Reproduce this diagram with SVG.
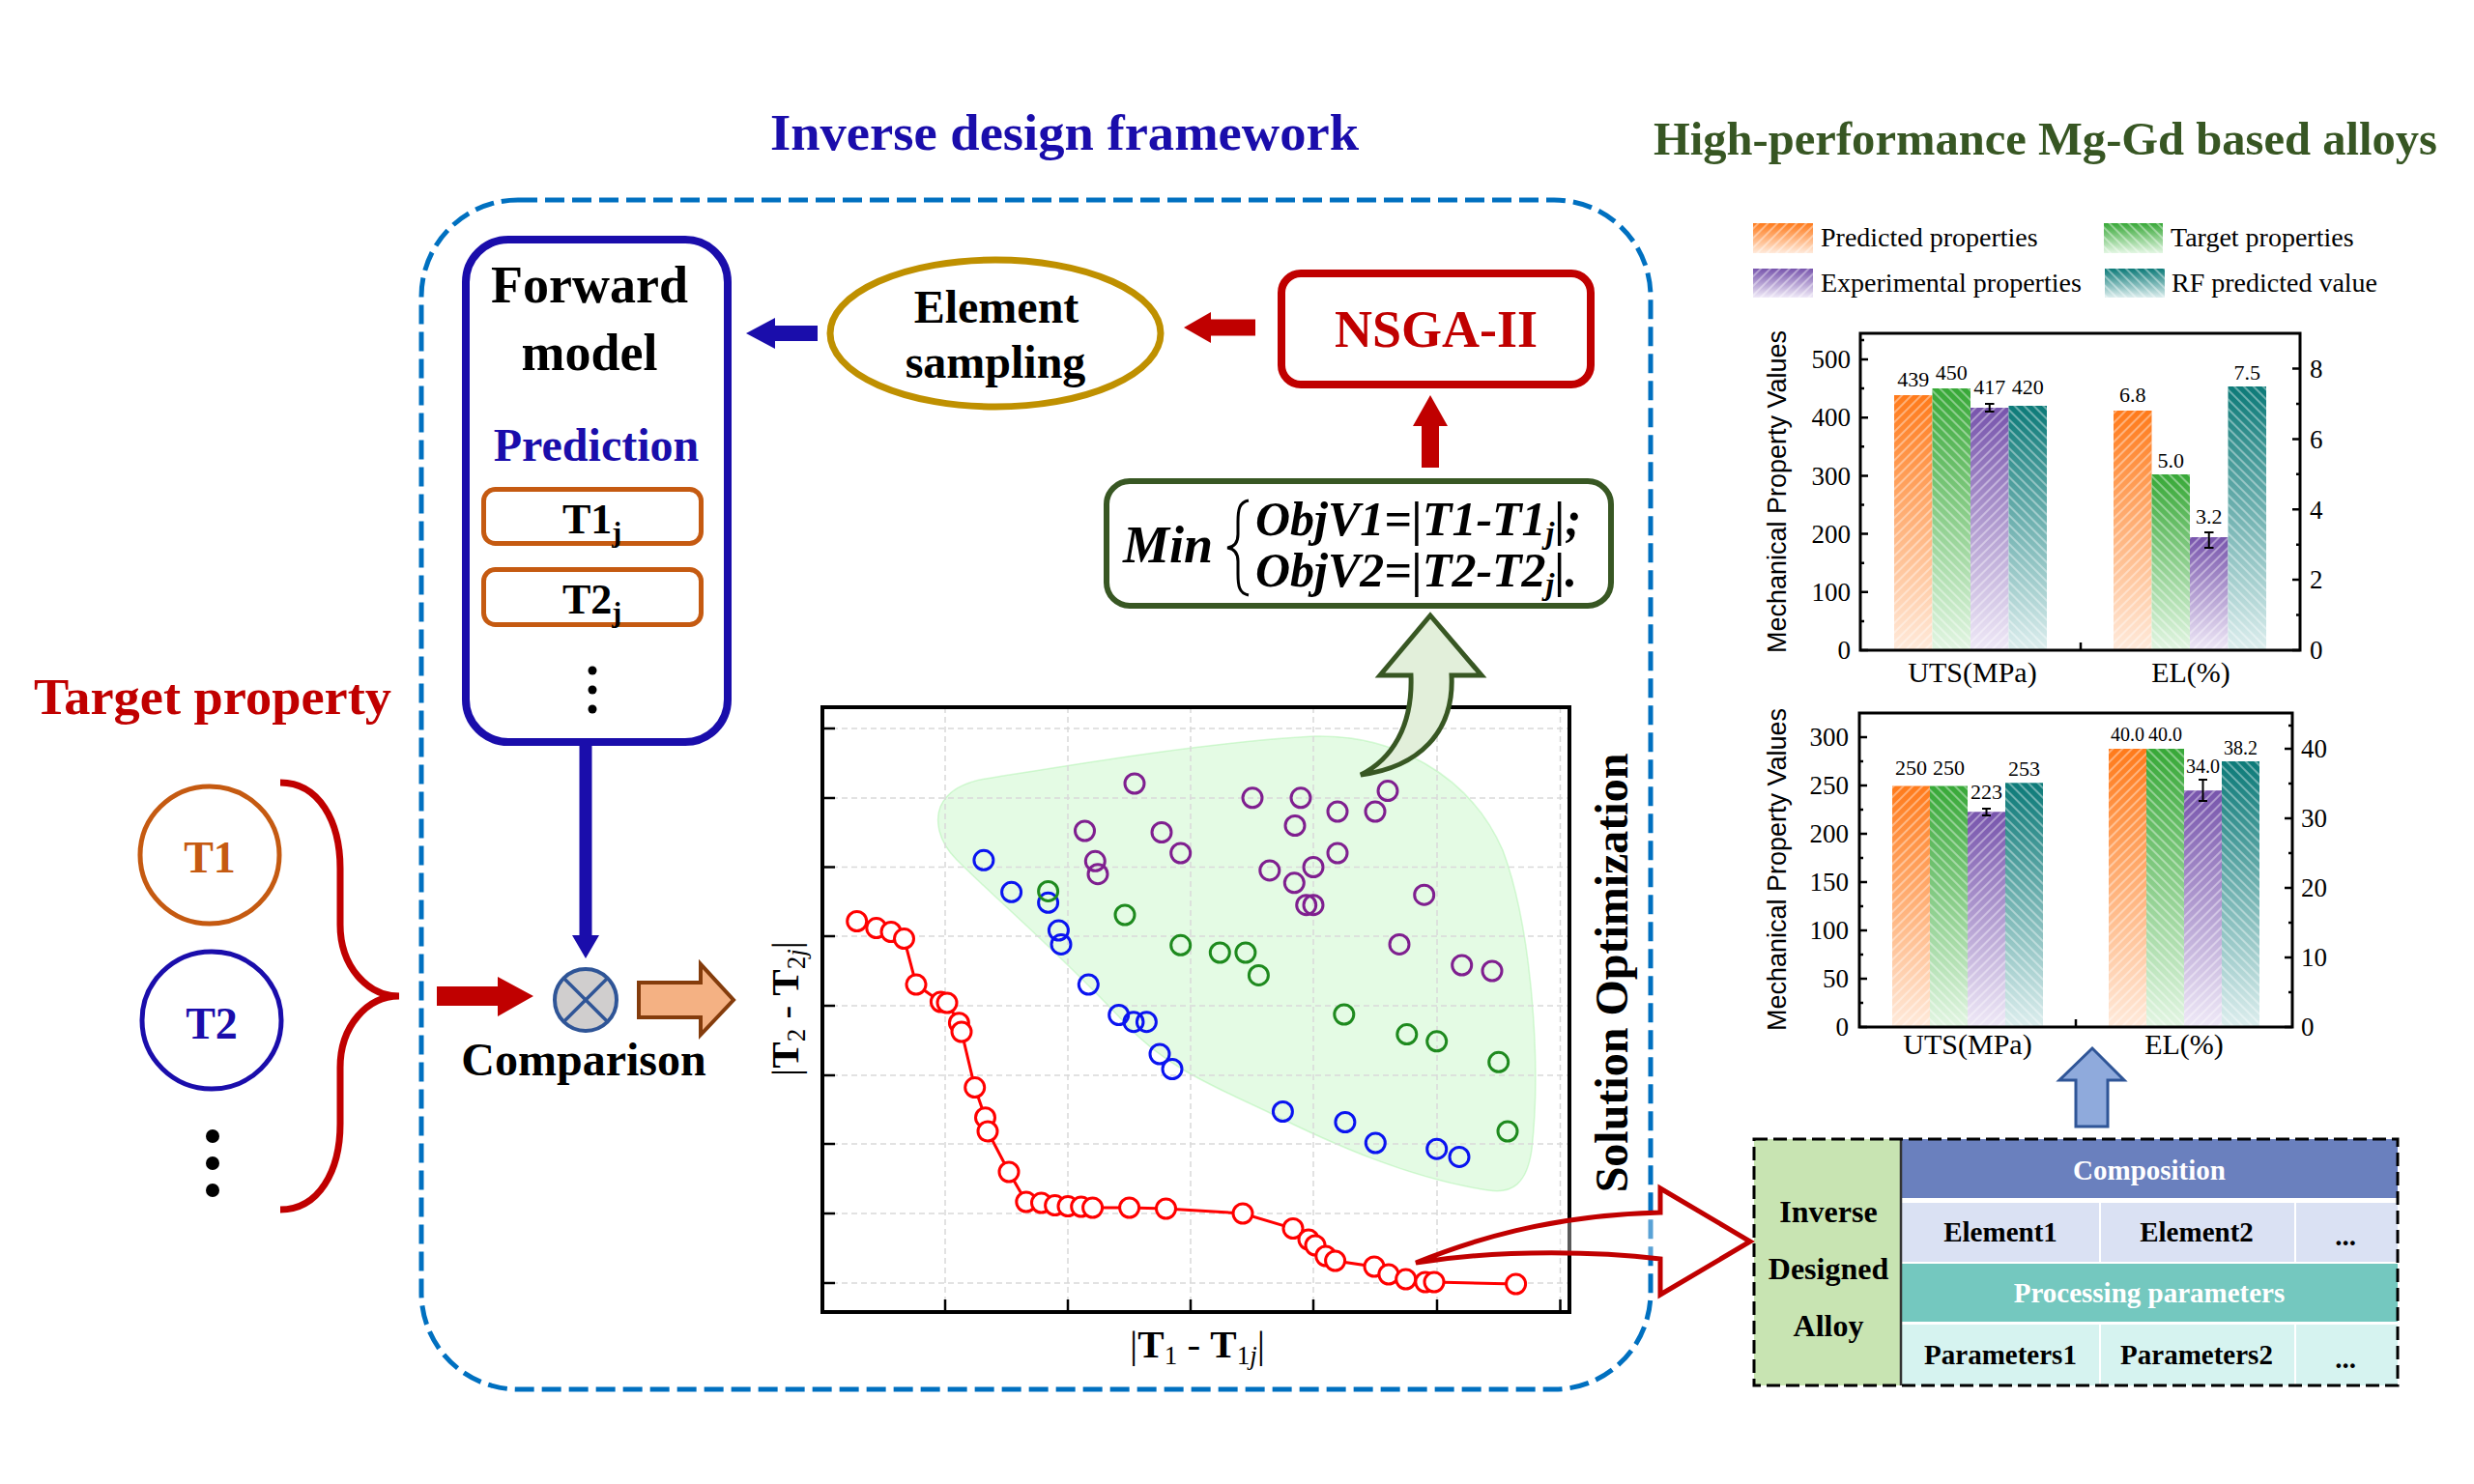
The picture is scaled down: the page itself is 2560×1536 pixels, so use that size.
<svg xmlns="http://www.w3.org/2000/svg" width="2560" height="1536" viewBox="0 0 2560 1536">
<defs>
<style>
text { font-family: "Liberation Serif", "Times New Roman", serif; fill: #000; }
.b { font-weight: bold; }
.bi { font-weight: bold; font-style: italic; }
.sans { font-family: "Liberation Sans", Arial, sans-serif; }
.mid { text-anchor: middle; }
.grid { stroke: #D9D9D9; stroke-width: 1.5; stroke-dasharray: 6 4; fill: none; }
.pf { fill: #FFFFFF; stroke: #FF0000; stroke-width: 3; }
.pu { fill: none; stroke: #7F1F8F; stroke-width: 3; }
.gr { fill: none; stroke: #1E8A1E; stroke-width: 3; }
.bl { fill: none; stroke: #0A14F0; stroke-width: 3; }
.tick { stroke: #000; stroke-width: 2.5; }
.frame { fill: none; stroke: #000; stroke-width: 3; }
.num { font-size: 27px; }
.val { font-size: 22px; text-anchor: middle; }
.val2 { font-size: 20px; text-anchor: middle; }
.axl { font-size: 30px; text-anchor: middle; }
.leg { font-size: 28px; }
.err { stroke: #000; stroke-width: 2; fill: none; }
.cell { font-size: 29px; font-weight: bold; text-anchor: middle; }
</style>
<linearGradient id="gO" x1="0" y1="0" x2="0" y2="1"><stop offset="0" stop-color="#FF7A1A"/><stop offset="1" stop-color="#FFEADB"/></linearGradient>
<linearGradient id="gG" x1="0" y1="0" x2="0" y2="1"><stop offset="0" stop-color="#37A837"/><stop offset="1" stop-color="#E3F6E3"/></linearGradient>
<linearGradient id="gP" x1="0" y1="0" x2="0" y2="1"><stop offset="0" stop-color="#7754AC"/><stop offset="1" stop-color="#EFE9F7"/></linearGradient>
<linearGradient id="gT" x1="0" y1="0" x2="0" y2="1"><stop offset="0" stop-color="#0C7A78"/><stop offset="1" stop-color="#DDEEEE"/></linearGradient>
<pattern id="hF" width="7" height="7" patternUnits="userSpaceOnUse" patternTransform="rotate(45)"><line x1="1" y1="0" x2="1" y2="7" stroke="#FFFFFF" stroke-width="1.3" stroke-opacity="0.6"/></pattern>
<pattern id="hB" width="7" height="7" patternUnits="userSpaceOnUse" patternTransform="rotate(-45)"><line x1="1" y1="0" x2="1" y2="7" stroke="#FFFFFF" stroke-width="1.3" stroke-opacity="0.6"/></pattern>
</defs>
<rect x="0" y="0" width="2560" height="1536" fill="#FFFFFF"/>

<!-- Titles -->
<text x="797" y="155" class="b" font-size="53" fill="#1A0DAB" style="fill:#1A0DAB" textLength="609" lengthAdjust="spacingAndGlyphs">Inverse design framework</text>
<text x="1711" y="160" class="b" font-size="48" style="fill:#375623" textLength="811" lengthAdjust="spacingAndGlyphs">High-performance Mg-Gd based alloys</text>

<!-- Big dashed framework box -->
<rect id="framework-box" x="436" y="207" width="1272" height="1231" rx="100" ry="100" fill="none" stroke="#0070C0" stroke-width="5" stroke-dasharray="20 8"/>

<!-- Target property -->
<g id="target-property">
<text x="35" y="739" class="b" font-size="52" style="fill:#C00000" textLength="370" lengthAdjust="spacingAndGlyphs">Target property</text>
<path d="M290,810 C330,810 352,850 352,899 L352,957 C352,1000 380,1031 413,1031 C380,1031 352,1062 352,1105 L352,1163 C352,1212 330,1252 290,1252" fill="none" stroke="#C00000" stroke-width="7"/>
<circle cx="220" cy="1176" r="7" fill="#000"/>
<circle cx="220" cy="1204" r="7" fill="#000"/>
<circle cx="220" cy="1232" r="7" fill="#000"/>
</g>
<g id="t1">
<ellipse cx="217" cy="885" rx="72" ry="71" fill="#FFFFFF" stroke="#C55A11" stroke-width="5"/>
<text x="217" y="903" class="b mid" font-size="46" style="fill:#C55A11">T1</text>
</g>
<g id="t2">
<ellipse cx="219" cy="1056" rx="72" ry="71" fill="#FFFFFF" stroke="#1A0DAB" stroke-width="5"/>
<text x="219" y="1075" class="b mid" font-size="46" style="fill:#1A0DAB">T2</text>
</g>

<!-- Forward model -->
<g id="forward-model">
<rect x="482" y="248" width="271" height="520" rx="44" ry="44" fill="#FFFFFF" stroke="#1A0DAB" stroke-width="8"/>
<text x="610" y="313" class="b mid" font-size="54">Forward</text>
<text x="610" y="383" class="b mid" font-size="54">model</text>
<text x="617" y="477" class="b mid" font-size="48" style="fill:#1A0DAB">Prediction</text>
<rect x="500.5" y="506.5" width="225" height="56" rx="12" ry="12" fill="#FFFFFF" stroke="#C55A11" stroke-width="5"/>
<text x="582" y="552" class="b" font-size="44">T1<tspan font-size="30" dy="9">j</tspan></text>
<rect x="500.5" y="589.5" width="225" height="57" rx="12" ry="12" fill="#FFFFFF" stroke="#C55A11" stroke-width="5"/>
<text x="582" y="635" class="b" font-size="44">T2<tspan font-size="30" dy="9">j</tspan></text>
<circle cx="613" cy="694" r="4.5" fill="#000"/>
<circle cx="613" cy="714" r="4.5" fill="#000"/>
<circle cx="613" cy="734" r="4.5" fill="#000"/>
</g>

<!-- Element sampling -->
<g id="element-sampling">
<ellipse cx="1030" cy="345" rx="171" ry="76" fill="#FFFFFF" stroke="#BF9000" stroke-width="7"/>
<text x="1031" y="334" class="b mid" font-size="48">Element</text>
<text x="1030" y="391" class="b mid" font-size="48">sampling</text>
</g>

<!-- NSGA-II -->
<g id="nsga">
<rect x="1326" y="283" width="320" height="115" rx="20" ry="20" fill="#FFFFFF" stroke="#C00000" stroke-width="8"/>
<text x="1486" y="359" class="b mid" font-size="54" style="fill:#C00000">NSGA-II</text>
</g>

<!-- Min objective -->
<g id="min-objective">
<rect x="1145" y="498" width="522" height="129" rx="24" ry="24" fill="#FFFFFF" stroke="#385723" stroke-width="6"/>
<text x="1162" y="582" class="bi" font-size="54">Min</text>
<path d="M1292,518 C1282,520 1281,528 1281,540 L1281,553 C1281,561 1278,566 1270,567 C1278,568 1281,573 1281,581 L1281,594 C1281,606 1282,614 1292,616" fill="none" stroke="#000" stroke-width="3"/>
<text x="1299" y="554" class="bi" font-size="50">ObjV1=|T1-T1<tspan font-size="32" dy="8">j</tspan><tspan dy="-8">|;</tspan></text>
<text x="1299" y="607" class="bi" font-size="50">ObjV2=|T2-T2<tspan font-size="32" dy="8">j</tspan><tspan dy="-8">|.</tspan></text>
</g>

<!-- Comparison -->
<g id="comparison">
<circle cx="606" cy="1035" r="32" fill="#D0CECE" stroke="#2F5597" stroke-width="4"/>
<line x1="583.4" y1="1012.4" x2="628.6" y2="1057.6" stroke="#2F5597" stroke-width="3.5"/>
<line x1="628.6" y1="1012.4" x2="583.4" y2="1057.6" stroke="#2F5597" stroke-width="3.5"/>
<text x="604" y="1113" class="b mid" font-size="48">Comparison</text>
</g>

<!-- Scatter plot -->
<g id="scatter-plot">
<path d="M972,860 C965,830 985,812 1020,806 C1120,790 1250,768 1360,762 C1440,760 1520,800 1555,880 C1585,960 1595,1100 1585,1190 C1580,1225 1565,1236 1540,1232 C1460,1220 1380,1185 1310,1150 C1240,1118 1200,1098 1165,1060 C1100,990 1030,930 990,890 C978,878 974,868 972,860 Z" fill="#90EE90" fill-opacity="0.24" stroke="#90EE90" stroke-opacity="0.35" stroke-width="1.5"/>
<g class="grid">
<line x1="851" y1="754" x2="1624" y2="754"/>
<line x1="851" y1="826" x2="1624" y2="826"/>
<line x1="851" y1="897.5" x2="1624" y2="897.5"/>
<line x1="851" y1="969" x2="1624" y2="969"/>
<line x1="851" y1="1041" x2="1624" y2="1041"/>
<line x1="851" y1="1113" x2="1624" y2="1113"/>
<line x1="851" y1="1184" x2="1624" y2="1184"/>
<line x1="851" y1="1256" x2="1624" y2="1256"/>
<line x1="851" y1="1328" x2="1624" y2="1328"/>
<line x1="978" y1="732" x2="978" y2="1357"/>
<line x1="1105" y1="732" x2="1105" y2="1357"/>
<line x1="1232" y1="732" x2="1232" y2="1357"/>
<line x1="1359" y1="732" x2="1359" y2="1357"/>
<line x1="1487" y1="732" x2="1487" y2="1357"/>
<line x1="1614.5" y1="732" x2="1614.5" y2="1357"/>
</g>
<rect x="851" y="732" width="773" height="626" fill="none" stroke="#000" stroke-width="4"/>
<g class="tick">
<line x1="851" y1="754" x2="864" y2="754"/>
<line x1="851" y1="826" x2="864" y2="826"/>
<line x1="851" y1="897.5" x2="864" y2="897.5"/>
<line x1="851" y1="969" x2="864" y2="969"/>
<line x1="851" y1="1041" x2="864" y2="1041"/>
<line x1="851" y1="1113" x2="864" y2="1113"/>
<line x1="851" y1="1184" x2="864" y2="1184"/>
<line x1="851" y1="1256" x2="864" y2="1256"/>
<line x1="851" y1="1328" x2="864" y2="1328"/>
<line x1="978" y1="1358" x2="978" y2="1345"/>
<line x1="1105" y1="1358" x2="1105" y2="1345"/>
<line x1="1232" y1="1358" x2="1232" y2="1345"/>
<line x1="1359" y1="1358" x2="1359" y2="1345"/>
<line x1="1487" y1="1358" x2="1487" y2="1345"/>
<line x1="1614.5" y1="1358" x2="1614.5" y2="1345"/>
</g>
<g class="pu">
<circle cx="1174" cy="811" r="10"/><circle cx="1122.5" cy="860" r="10"/><circle cx="1202" cy="861.5" r="10"/>
<circle cx="1221.7" cy="883" r="10"/><circle cx="1133.3" cy="891.3" r="10"/><circle cx="1136" cy="904.7" r="10"/>
<circle cx="1296" cy="825.8" r="10"/><circle cx="1346" cy="825.8" r="10"/><circle cx="1340" cy="854.5" r="10"/>
<circle cx="1384" cy="840" r="10"/><circle cx="1423" cy="840" r="10"/><circle cx="1436" cy="818.6" r="10"/>
<circle cx="1313.8" cy="900.9" r="10"/><circle cx="1339.3" cy="913.8" r="10"/><circle cx="1359" cy="897.5" r="10"/>
<circle cx="1384" cy="883" r="10"/><circle cx="1351.7" cy="936.7" r="10"/><circle cx="1359" cy="936.7" r="10"/>
<circle cx="1473.7" cy="926.2" r="10"/><circle cx="1448" cy="977.4" r="10"/><circle cx="1512.7" cy="999" r="10"/>
<circle cx="1544" cy="1005" r="10"/>
</g>
<g class="bl">
<circle cx="1017.9" cy="890.3" r="10"/><circle cx="1046.6" cy="923.3" r="10"/><circle cx="1084.6" cy="934.3" r="10"/>
<circle cx="1095.4" cy="963" r="10"/><circle cx="1098" cy="977.4" r="10"/><circle cx="1126.3" cy="1019" r="10"/>
<circle cx="1157.7" cy="1050.5" r="10"/><circle cx="1173" cy="1057.7" r="10"/><circle cx="1186.4" cy="1057.7" r="10"/>
<circle cx="1200" cy="1091" r="10"/><circle cx="1213" cy="1106.5" r="10"/><circle cx="1327.4" cy="1150.5" r="10"/>
<circle cx="1391.9" cy="1161.5" r="10"/><circle cx="1423.3" cy="1183" r="10"/><circle cx="1486.7" cy="1189.2" r="10"/>
<circle cx="1510" cy="1197.4" r="10"/>
</g>
<g class="gr">
<circle cx="1084.6" cy="922.4" r="10"/><circle cx="1164" cy="947" r="10"/><circle cx="1221.7" cy="978.3" r="10"/>
<circle cx="1262.3" cy="986" r="10"/><circle cx="1288.9" cy="986" r="10"/><circle cx="1302.4" cy="1009.4" r="10"/>
<circle cx="1390.8" cy="1050" r="10"/><circle cx="1455.8" cy="1070.6" r="10"/><circle cx="1486.7" cy="1077.8" r="10"/>
<circle cx="1550.7" cy="1099.3" r="10"/><circle cx="1560" cy="1171" r="10"/>
</g>
<polyline points="886.7,953.5 906.8,960.6 922,964.5 935.5,971.6 948,1019 973.4,1037 980,1038 992.4,1058.7 995,1068 1008.7,1125.6 1019.5,1156.7 1022,1171 1044,1213 1061.8,1244 1077.5,1245 1091.6,1247.6 1105,1248.5 1118.7,1249 1130.6,1250 1168.6,1250 1206.5,1251 1286,1256 1338,1271.5 1354,1283 1361,1289 1371.8,1300 1381.6,1305 1422,1311 1436.9,1319 1454.7,1324 1474.8,1327 1484,1327 1568.6,1329" fill="none" stroke="#FF0000" stroke-width="3"/>
<g class="pf">
<circle cx="886.7" cy="953.5" r="10"/><circle cx="906.8" cy="960.6" r="10"/><circle cx="922" cy="964.5" r="10"/>
<circle cx="935.5" cy="971.6" r="10"/><circle cx="948" cy="1019" r="10"/><circle cx="973.4" cy="1037" r="10"/>
<circle cx="980" cy="1038" r="10"/><circle cx="992.4" cy="1058.7" r="10"/><circle cx="995" cy="1068" r="10"/>
<circle cx="1008.7" cy="1125.6" r="10"/><circle cx="1019.5" cy="1156.7" r="10"/><circle cx="1022" cy="1171" r="10"/>
<circle cx="1044" cy="1213" r="10"/><circle cx="1061.8" cy="1244" r="10"/><circle cx="1077.5" cy="1245" r="10"/>
<circle cx="1091.6" cy="1247.6" r="10"/><circle cx="1105" cy="1248.5" r="10"/><circle cx="1118.7" cy="1249" r="10"/>
<circle cx="1130.6" cy="1250" r="10"/><circle cx="1168.6" cy="1250" r="10"/><circle cx="1206.5" cy="1251" r="10"/>
<circle cx="1286" cy="1256" r="10"/><circle cx="1338" cy="1271.5" r="10"/><circle cx="1354" cy="1283" r="10"/>
<circle cx="1361" cy="1289" r="10"/><circle cx="1371.8" cy="1300" r="10"/><circle cx="1381.6" cy="1305" r="10"/>
<circle cx="1422" cy="1311" r="10"/><circle cx="1436.9" cy="1319" r="10"/><circle cx="1454.7" cy="1324" r="10"/>
<circle cx="1474.8" cy="1327" r="10"/><circle cx="1484" cy="1327" r="10"/><circle cx="1568.6" cy="1329" r="10"/>
</g>
<text x="1239" y="1405" class="mid" font-size="41">|<tspan font-weight="bold">T</tspan><tspan font-size="27" dy="7">1</tspan><tspan dy="-7"> - </tspan><tspan font-weight="bold">T</tspan><tspan font-size="27" dy="7">1</tspan><tspan font-size="27" font-style="italic">j</tspan><tspan dy="-7">|</tspan></text>
<text transform="translate(826,1044) rotate(-90)" class="mid" font-size="41">|<tspan font-weight="bold">T</tspan><tspan font-size="27" dy="7">2</tspan><tspan dy="-7"> - </tspan><tspan font-weight="bold">T</tspan><tspan font-size="27" dy="7">2</tspan><tspan font-size="27" font-style="italic">j</tspan><tspan dy="-7">|</tspan></text>
</g>

<text transform="translate(1684,1007) rotate(-90)" class="b mid" font-size="48">Solution Optimization</text>

<!-- Charts -->
<g id="legend">
<rect x="1814" y="231" width="62" height="31" fill="url(#gO)"/><rect x="1814" y="231" width="62" height="31" fill="url(#hF)"/>
<rect x="2177" y="231" width="61" height="31" fill="url(#gG)"/><rect x="2177" y="231" width="61" height="31" fill="url(#hB)"/>
<rect x="1814" y="278" width="62" height="30" fill="url(#gP)"/><rect x="1814" y="278" width="62" height="30" fill="url(#hF)"/>
<rect x="2178" y="278" width="62" height="30" fill="url(#gT)"/><rect x="2178" y="278" width="62" height="30" fill="url(#hB)"/>
<text x="1884" y="255" class="leg">Predicted properties</text>
<text x="2246" y="255" class="leg">Target properties</text>
<text x="1884" y="302" class="leg">Experimental properties</text>
<text x="2247" y="302" class="leg">RF predicted value</text>
</g>

<g id="chart-1">
<rect x="1960" y="409" width="39.5" height="264" fill="url(#gO)"/><rect x="1960" y="409" width="39.5" height="264" fill="url(#hF)"/>
<rect x="1999.5" y="402" width="39.5" height="271" fill="url(#gG)"/><rect x="1999.5" y="402" width="39.5" height="271" fill="url(#hB)"/>
<rect x="2039" y="422" width="39.5" height="251" fill="url(#gP)"/><rect x="2039" y="422" width="39.5" height="251" fill="url(#hF)"/>
<rect x="2078.5" y="420" width="39.5" height="253" fill="url(#gT)"/><rect x="2078.5" y="420" width="39.5" height="253" fill="url(#hB)"/>
<rect x="2187" y="425" width="39.5" height="248" fill="url(#gO)"/><rect x="2187" y="425" width="39.5" height="248" fill="url(#hF)"/>
<rect x="2226.5" y="491" width="39.5" height="182" fill="url(#gG)"/><rect x="2226.5" y="491" width="39.5" height="182" fill="url(#hB)"/>
<rect x="2266" y="556" width="39.5" height="117" fill="url(#gP)"/><rect x="2266" y="556" width="39.5" height="117" fill="url(#hF)"/>
<rect x="2305.5" y="400" width="39.5" height="273" fill="url(#gT)"/><rect x="2305.5" y="400" width="39.5" height="273" fill="url(#hB)"/>
<path class="err" d="M2058.75,418 V426 M2054,418 H2063.5 M2054,426 H2063.5 M2285.75,551 V567 M2281,551 H2290.5 M2281,567 H2290.5"/>
<rect class="frame" x="1925" y="345" width="455" height="328"/>
<path class="tick" d="M1925,673 H1933 M1925,612.8 H1933 M1925,552.6 H1933 M1925,492.4 H1933 M1925,432.2 H1933 M1925,372 H1933 M1925,642.9 H1929 M1925,582.7 H1929 M1925,522.5 H1929 M1925,462.3 H1929 M1925,402.1 H1929 M1925,351.9 H1929 M2380,673 H2372 M2380,600.1 H2372 M2380,527.2 H2372 M2380,454.4 H2372 M2380,381.5 H2372 M2380,636.6 H2376 M2380,563.7 H2376 M2380,490.8 H2376 M2380,417.9 H2376 M2153,673 V665"/>
<g class="num" text-anchor="end">
<text x="1915" y="381">500</text><text x="1915" y="441">400</text><text x="1915" y="502">300</text>
<text x="1915" y="562">200</text><text x="1915" y="622">100</text><text x="1915" y="682">0</text>
</g>
<g class="num">
<text x="2390" y="391">8</text><text x="2390" y="464">6</text><text x="2390" y="537">4</text>
<text x="2390" y="609">2</text><text x="2390" y="682">0</text>
</g>
<g>
<text x="1979.75" y="400" class="val">439</text><text x="2019.25" y="393" class="val">450</text>
<text x="2058.75" y="408" class="val">417</text><text x="2098.25" y="408" class="val">420</text>
<text x="2206.75" y="416" class="val">6.8</text><text x="2246.25" y="484" class="val">5.0</text>
<text x="2285.75" y="542" class="val">3.2</text><text x="2325.25" y="393" class="val">7.5</text>
</g>
<text x="2041" y="706" class="axl">UTS(MPa)</text>
<text x="2267" y="706" class="axl">EL(%)</text>
<text transform="translate(1848,509) rotate(-90)" class="sans mid" font-size="27">Mechanical Property Values</text>
</g>

<g id="chart-2">
<rect x="1958" y="813.5" width="39" height="249.5" fill="url(#gO)"/><rect x="1958" y="813.5" width="39" height="249.5" fill="url(#hF)"/>
<rect x="1997" y="813.5" width="39" height="249.5" fill="url(#gG)"/><rect x="1997" y="813.5" width="39" height="249.5" fill="url(#hB)"/>
<rect x="2036" y="840.3" width="39" height="222.7" fill="url(#gP)"/><rect x="2036" y="840.3" width="39" height="222.7" fill="url(#hF)"/>
<rect x="2075" y="810.3" width="39" height="252.7" fill="url(#gT)"/><rect x="2075" y="810.3" width="39" height="252.7" fill="url(#hB)"/>
<rect x="2182" y="775" width="39" height="288" fill="url(#gO)"/><rect x="2182" y="775" width="39" height="288" fill="url(#hF)"/>
<rect x="2221" y="775" width="39" height="288" fill="url(#gG)"/><rect x="2221" y="775" width="39" height="288" fill="url(#hB)"/>
<rect x="2260" y="818.2" width="39" height="244.8" fill="url(#gP)"/><rect x="2260" y="818.2" width="39" height="244.8" fill="url(#hF)"/>
<rect x="2299" y="788" width="39" height="275" fill="url(#gT)"/><rect x="2299" y="788" width="39" height="275" fill="url(#hB)"/>
<path class="err" d="M2055.5,837 V844 M2051,837 H2060 M2051,844 H2060 M2279.5,807 V829 M2275,807 H2284 M2275,829 H2284"/>
<rect class="frame" x="1924" y="738" width="448" height="325"/>
<path class="tick" d="M1924,1063 H1932 M1924,1013 H1932 M1924,963 H1932 M1924,913 H1932 M1924,863 H1932 M1924,813 H1932 M1924,763 H1932 M1924,1038 H1928 M1924,988 H1928 M1924,938 H1928 M1924,888 H1928 M1924,838 H1928 M1924,788 H1928 M2372,1063 H2364 M2372,991 H2364 M2372,919 H2364 M2372,847 H2364 M2372,775 H2364 M2372,1027 H2368 M2372,955 H2368 M2372,883 H2368 M2372,811 H2368 M2372,751 H2368 M2148,1063 V1055"/>
<g class="num" text-anchor="end">
<text x="1913" y="772">300</text><text x="1913" y="822">250</text><text x="1913" y="872">200</text>
<text x="1913" y="922">150</text><text x="1913" y="972">100</text><text x="1913" y="1022">50</text><text x="1913" y="1072">0</text>
</g>
<g class="num">
<text x="2381" y="784">40</text><text x="2381" y="856">30</text><text x="2381" y="928">20</text>
<text x="2381" y="1000">10</text><text x="2381" y="1072">0</text>
</g>
<g>
<text x="1977.5" y="802" class="val">250</text><text x="2016.5" y="802" class="val">250</text>
<text x="2055.5" y="827" class="val">223</text><text x="2094.5" y="803" class="val">253</text>
<text x="2201.5" y="767" class="val2">40.0</text><text x="2240.5" y="767" class="val2">40.0</text>
<text x="2279.5" y="800" class="val2">34.0</text><text x="2318.5" y="781" class="val2">38.2</text>
</g>
<text x="2036" y="1091" class="axl">UTS(MPa)</text>
<text x="2260" y="1091" class="axl">EL(%)</text>
<text transform="translate(1848,900) rotate(-90)" class="sans mid" font-size="27">Mechanical Property Values</text>
</g>

<!-- Table -->
<g id="designed-alloy-table">
<rect x="1815" y="1179" width="152" height="255" fill="#C8E4B2"/>
<rect x="1967" y="1179" width="514" height="61" fill="#6A80BE"/>
<rect x="1967" y="1245" width="205" height="61" fill="#DAE1F3"/>
<rect x="2174" y="1245" width="200" height="61" fill="#DAE1F3"/>
<rect x="2376" y="1245" width="105" height="61" fill="#DAE1F3"/>
<rect x="1967" y="1308" width="514" height="60" fill="#74C8BF"/>
<rect x="1967" y="1371" width="205" height="63" fill="#D6F3F0"/>
<rect x="2174" y="1371" width="200" height="63" fill="#D6F3F0"/>
<rect x="2376" y="1371" width="105" height="63" fill="#D6F3F0"/>
<line x1="1967" y1="1179" x2="1967" y2="1434" stroke="#333" stroke-width="2.5"/>
<rect x="1815" y="1179" width="666" height="255" fill="none" stroke="#000" stroke-width="3" stroke-dasharray="14 6"/>
<text x="1892" y="1265" class="b mid" font-size="32">Inverse</text>
<text x="1892" y="1324" class="b mid" font-size="32">Designed</text>
<text x="1892" y="1383" class="b mid" font-size="32">Alloy</text>
<text x="2224" y="1221" class="cell" style="fill:#FFFFFF">Composition</text>
<text x="2070" y="1285" class="cell">Element1</text>
<text x="2273" y="1285" class="cell">Element2</text>
<text x="2427" y="1289" class="cell" font-size="36">...</text>
<text x="2224" y="1348" class="cell" style="fill:#FFFFFF">Processing parameters</text>
<text x="2070" y="1412" class="cell">Parameters1</text>
<text x="2273" y="1412" class="cell">Parameters2</text>
<text x="2427" y="1416" class="cell" font-size="36">...</text>
</g>

<!-- Connectors -->
<g id="connectors">
<polygon points="846,337 802,337 802,329 772,345 802,361 802,353 846,353" fill="#1A0DAB"/>
<polygon points="1299,330.5 1253,330.5 1253,323 1225,339 1253,355 1253,347.5 1299,347.5" fill="#C00000"/>
<polygon points="1471,484 1471,441 1462,441 1480,409 1498,441 1489,441 1489,484" fill="#C00000"/>
<polygon points="599.5,772 612.5,772 612.5,968 620,968 606,992 592,968 599.5,968" fill="#1A0DAB"/>
<polygon points="452,1021 515,1021 515,1011 552,1031 515,1052 515,1041 452,1041" fill="#C00000"/>
<polygon points="661,1017 725,1017 725,998 759,1035 725,1071 725,1053 661,1053" fill="#F4B183" stroke="#843C0C" stroke-width="4"/>
<path d="M1408,802 C1440,786 1462,752 1460,699 L1428,699 L1480,637 L1533,699 L1502,699 C1505,758 1468,794 1408,802 Z" fill="#E2EFDA" stroke="#385723" stroke-width="5"/>
<path d="M1465,1307 C1520,1285 1600,1258 1718,1255 L1718,1230 L1811,1285 L1718,1340 L1718,1303 C1660,1296 1560,1292 1465,1307 Z" fill="#FFFFFF" fill-opacity="0.35" stroke="#C00000" stroke-width="5"/>
<polygon points="2148,1166 2148,1118 2131,1118 2165,1085 2198,1118 2181,1118 2181,1166" fill="#8FAADC" stroke="#2F5597" stroke-width="3"/>
</g>
</svg>
